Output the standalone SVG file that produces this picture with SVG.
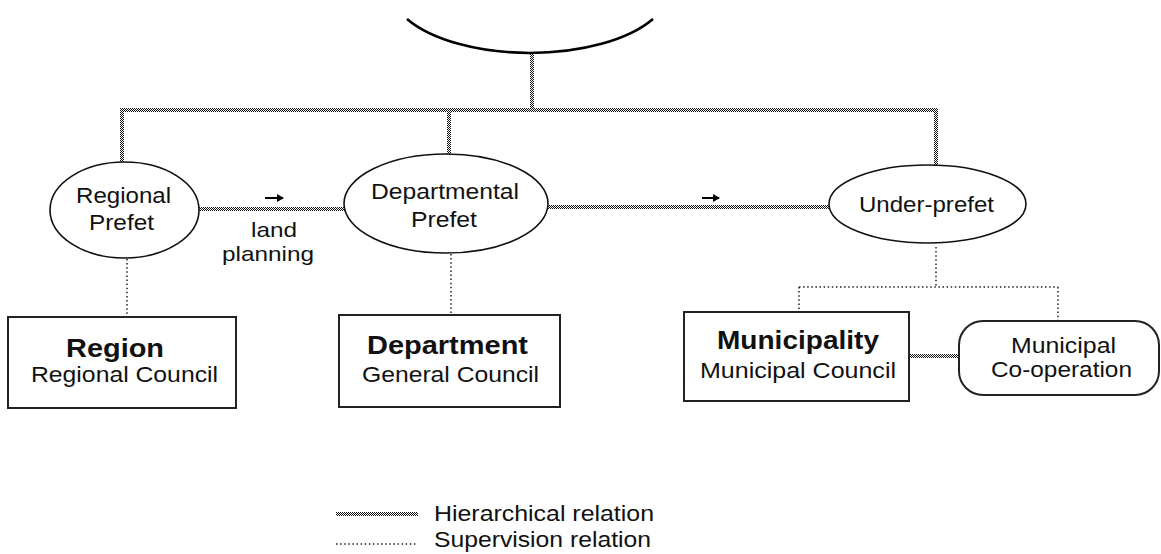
<svg xmlns="http://www.w3.org/2000/svg" width="1161" height="554" viewBox="0 0 1161 554">
<defs>
<pattern id="checker" patternUnits="userSpaceOnUse" width="2" height="2">
<rect x="0" y="0" width="2" height="2" fill="#fff"/>
<rect x="0" y="0" width="1" height="1" fill="#111"/>
<rect x="1" y="1" width="1" height="1" fill="#111"/>
</pattern>
<marker id="arr" markerWidth="8" markerHeight="8" refX="6" refY="4" orient="auto" markerUnits="userSpaceOnUse">
<path d="M0,0 L7,4 L0,8 Z" fill="#000"/>
</marker>
</defs>
<style>
text{font-family:"Liberation Sans",Arial,sans-serif;font-size:22px;fill:#111}
.b{font-weight:bold;font-size:25px}
.s{font-size:21px}
.hier{fill:none;stroke:url(#checker);stroke-width:4}
.sup{fill:none;stroke:#222;stroke-width:1.5;stroke-dasharray:1.5 2.6}
.ell{fill:#fff;stroke:#111;stroke-width:1.6}
.box{fill:#fff;stroke:#222;stroke-width:2}
.arrow{fill:none;stroke:#000;stroke-width:2}
</style>
<rect width="1161" height="554" fill="#fff"/>
<g id="connectors">
<path class="hier" d="M532,54 V110"/>
<path class="hier" d="M120,110 H938"/>
<path class="hier" d="M122,110 V162"/>
<path class="hier" d="M449,110 V154"/>
<path class="hier" d="M936,110 V165"/>
<path class="hier" d="M199,209 H345"/>
<path class="hier" d="M548,207 H829"/>
<path class="hier" d="M909,356 H960"/>
<path class="sup" d="M127,259 V317"/>
<path class="sup" d="M451,254 V315"/>
<path class="sup" d="M936,247 V287 M799,287 H1058 M799,287 V312 M1058,287 V321"/>
<path class="arrow" d="M265,198 H283" marker-end="url(#arr)"/>
<path class="arrow" d="M702,198 H719" marker-end="url(#arr)"/>
</g>
<g id="top-node">
<path d="M407,19 A140 65 0 0 0 653,19" fill="none" stroke="#000" stroke-width="2.6"/>
</g>
<g id="regional-prefet">
<ellipse class="ell" cx="124.5" cy="210" rx="74.5" ry="48"/>
<text x="123.5" y="203" text-anchor="middle" textLength="95" lengthAdjust="spacingAndGlyphs">Regional</text>
<text x="121.5" y="230" text-anchor="middle" textLength="65" lengthAdjust="spacingAndGlyphs">Prefet</text>
</g>
<g id="land-planning">
<text class="s" x="274" y="237" text-anchor="middle" textLength="46" lengthAdjust="spacingAndGlyphs">land</text>
<text class="s" x="268" y="261" text-anchor="middle" textLength="92" lengthAdjust="spacingAndGlyphs">planning</text>
</g>
<g id="departmental-prefet">
<ellipse class="ell" cx="446" cy="203.5" rx="102" ry="49.5"/>
<text x="445" y="199" text-anchor="middle" textLength="148" lengthAdjust="spacingAndGlyphs">Departmental</text>
<text x="444" y="227" text-anchor="middle" textLength="66" lengthAdjust="spacingAndGlyphs">Prefet</text>
</g>
<g id="under-prefet">
<ellipse class="ell" cx="927.5" cy="204" rx="98.5" ry="39"/>
<text x="926.5" y="212" text-anchor="middle" textLength="135" lengthAdjust="spacingAndGlyphs">Under-prefet</text>
</g>
<g id="region">
<rect class="box" x="8" y="317" width="228" height="91"/>
<text class="b" x="115" y="357" text-anchor="middle" textLength="98" lengthAdjust="spacingAndGlyphs">Region</text>
<text x="124.5" y="382" text-anchor="middle" textLength="187" lengthAdjust="spacingAndGlyphs">Regional Council</text>
</g>
<g id="department">
<rect class="box" x="339" y="315" width="221" height="92"/>
<text class="b" x="447.5" y="354" text-anchor="middle" textLength="161" lengthAdjust="spacingAndGlyphs">Department</text>
<text x="450.5" y="382" text-anchor="middle" textLength="177" lengthAdjust="spacingAndGlyphs">General Council</text>
</g>
<g id="municipality">
<rect class="box" x="684" y="312" width="225" height="89"/>
<text class="b" x="798" y="349" text-anchor="middle" textLength="162" lengthAdjust="spacingAndGlyphs">Municipality</text>
<text x="798" y="378" text-anchor="middle" textLength="196" lengthAdjust="spacingAndGlyphs">Municipal Council</text>
</g>
<g id="municipal-cooperation">
<rect class="box" x="959" y="321" width="200" height="74" rx="24" ry="24"/>
<text x="1063.5" y="353" text-anchor="middle" textLength="105" lengthAdjust="spacingAndGlyphs">Municipal</text>
<text x="1061.5" y="377" text-anchor="middle" textLength="141" lengthAdjust="spacingAndGlyphs">Co-operation</text>
</g>
<g id="legend">
<path class="hier" d="M336,514 H418"/>
<text x="434" y="521" textLength="220" lengthAdjust="spacingAndGlyphs">Hierarchical relation</text>
<path class="sup" d="M336,544 H418"/>
<text x="434" y="547" textLength="217" lengthAdjust="spacingAndGlyphs">Supervision relation</text>
</g>
</svg>
